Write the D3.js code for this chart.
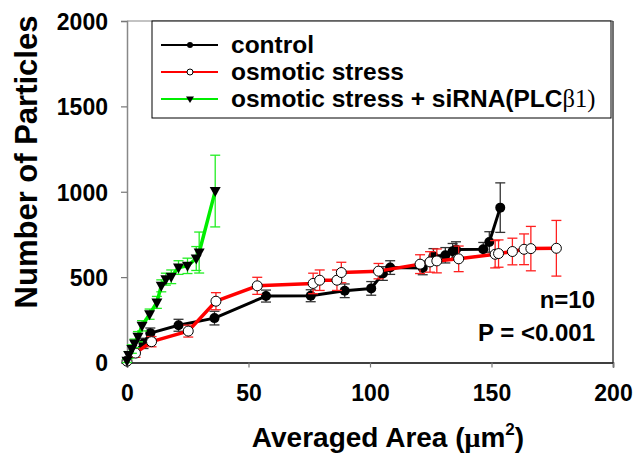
<!DOCTYPE html>
<html>
<head>
<meta charset="utf-8">
<script src="https://cdn.jsdelivr.net/npm/d3@7"></script>
<style>
  body { margin: 0; background: #fff; }
  svg text { font-family: "Liberation Sans", Arial, sans-serif; font-weight: bold; }
</style>
</head>
<body>
<div id="figure-div"></div>
<script>
// data
var controlX = [0, 2.7, 6.8, 9.6, 21.2, 36, 57.2, 75.6, 89.6, 100.5, 105.3, 108.3, 121.7, 126.1, 131, 134, 135.4, 146.6, 149.1, 153.6];
var controlY = [8, 57, 112, 172, 218, 260, 389, 391, 420, 434, 521, 556, 554, 622, 628, 652, 662, 663, 706, 907];
var controlErr = [5, 20, 30, 30, 35, 40, 35, 35, 40, 40, 40, 40, 40, 45, 45, 45, 45, 40, 60, 145];

var osmoticX = [0, 3.5, 10.1, 25.2, 36.6, 53.6, 76.6, 79.3, 86.4, 88.2, 103.5, 120.6, 124.7, 127.5, 136.5, 151.5, 152.9, 158.6, 163.4, 166.2, 176.7];
var osmoticY = [8, 55, 122, 184, 359, 449, 463, 482, 482, 527, 535, 576, 589, 595, 607, 634, 638, 650, 663, 667, 669];
var osmoticErr = [5, 25, 30, 35, 50, 50, 60, 60, 60, 60, 45, 55, 60, 70, 75, 80, 80, 78, 90, 130, 163];

var sirnaX = [0, 0.7, 2.0, 3.1, 4.5, 6.2, 9.3, 12.3, 14.1, 16.0, 18.2, 21.2, 24.9, 28.5, 29.7, 36.3];
var sirnaY = [10, 44, 79, 112, 151, 215, 283, 352, 449, 488, 502, 556, 566, 609, 644, 1004];
var sirnaErr = [10, 20, 25, 25, 30, 30, 30, 35, 35, 35, 40, 40, 45, 70, 120, 210];

var xTicks = [0, 50, 100, 150, 200];
var yTicks = [0, 500, 1000, 1500, 2000];
var legendLabels = ["control", "osmotic stress", "osmotic stress + siRNA(PLC"];

var w = 637, h = 454;
var plotLeft = 127, plotRight = 613, plotTop = 21, plotBottom = 362.5;

var svg = d3.select("#figure-div").append("svg")
	.attr("width", w)
	.attr("height", h);

var xScale = d3.scaleLinear().domain([0, 200]).range([plotLeft, plotRight]);
var yScale = d3.scaleLinear().domain([0, 2000]).range([plotBottom, plotTop]);

// frame lines
svg.append("line").attr("x1", plotLeft).attr("x2", plotRight).attr("y1", plotTop).attr("y2", plotTop)
	.attr("stroke", "#888").attr("stroke-width", 1.2);
svg.append("line").attr("x1", plotRight).attr("x2", plotRight).attr("y1", plotTop).attr("y2", plotBottom)
	.attr("stroke", "#111").attr("stroke-width", 1.2);

// x axis
var xAxis = d3.axisBottom(xScale).tickValues(xTicks).tickSize(5).tickPadding(17).tickFormat(d3.format("d"));
var gx = svg.append("g").attr("transform", "translate(0," + plotBottom + ")").call(xAxis);
gx.select(".domain").attr("stroke", "#000").attr("stroke-width", 1.5);
gx.selectAll(".tick line").attr("stroke", "#777").attr("stroke-width", 1.2);
gx.selectAll(".tick text").attr("font-size", "23px").attr("fill", "#000")
	.attr("font-family", "Liberation Sans, Arial, sans-serif").attr("font-weight", "bold");

// y axis
var yAxis = d3.axisLeft(yScale).tickValues(yTicks).tickSize(6).tickPadding(13).tickFormat(d3.format("d"));
var gy = svg.append("g").attr("transform", "translate(" + plotLeft + ",0)").call(yAxis);
gy.select(".domain").attr("stroke", "#888").attr("stroke-width", 1.5);
gy.selectAll(".tick line").attr("stroke", "#777").attr("stroke-width", 1.2);
gy.selectAll(".tick text").attr("font-size", "23px").attr("fill", "#000")
	.attr("font-family", "Liberation Sans, Arial, sans-serif").attr("font-weight", "bold")
	.attr("dy", "0.36em");

// axis titles
var xt = svg.append("text")
	.attr("x", 388)
	.attr("y", 447)
	.attr("text-anchor", "middle")
	.attr("font-size", "28px")
	.text("Averaged Area (");
xt.append("tspan").attr("font-family", "Liberation Serif, serif").text("μ");
xt.append("tspan").text("m");
xt.append("tspan").attr("font-size", "17px").attr("dy", "-12").text("2");
xt.append("tspan").attr("dy", "12").text(")");

svg.append("text")
	.attr("transform", "translate(37," + 162 + ") rotate(-90)")
	.attr("text-anchor", "middle")
	.attr("font-size", "31px")
	.text("Number of Particles");

// draw a series
function drawSeries(xs, ys, errs, lineColor, lineWidth, errColor, marker) {
	var pts = xs.map(function(x, i) { return { x: x, y: ys[i], e: errs[i] }; });
	var g = svg.append("g");
	var err = g.selectAll("g.err").data(pts).enter().append("g").attr("class", "err")
		.attr("stroke", errColor).attr("stroke-width", 1.3);
	err.append("line")
		.attr("x1", function(d) { return xScale(d.x); })
		.attr("x2", function(d) { return xScale(d.x); })
		.attr("y1", function(d) { return yScale(d.y - d.e); })
		.attr("y2", function(d) { return yScale(d.y + d.e); });
	err.append("line")
		.attr("x1", function(d) { return xScale(d.x) - 5; })
		.attr("x2", function(d) { return xScale(d.x) + 5; })
		.attr("y1", function(d) { return yScale(d.y + d.e); })
		.attr("y2", function(d) { return yScale(d.y + d.e); });
	err.append("line")
		.attr("x1", function(d) { return xScale(d.x) - 5; })
		.attr("x2", function(d) { return xScale(d.x) + 5; })
		.attr("y1", function(d) { return yScale(d.y - d.e); })
		.attr("y2", function(d) { return yScale(d.y - d.e); });

	var line = d3.line().x(function(d) { return xScale(d.x); }).y(function(d) { return yScale(d.y); });
	g.append("path").datum(pts).attr("d", line)
		.attr("fill", "none").attr("stroke", lineColor).attr("stroke-width", lineWidth)
		.attr("stroke-linejoin", "round");

	if (marker == "dot") {
		g.selectAll("circle").data(pts).enter().append("circle")
			.attr("cx", function(d) { return xScale(d.x); })
			.attr("cy", function(d) { return yScale(d.y); })
			.attr("r", 5).attr("fill", "#000");
	} else if (marker == "open") {
		g.selectAll("circle").data(pts).enter().append("circle")
			.attr("cx", function(d) { return xScale(d.x); })
			.attr("cy", function(d) { return yScale(d.y); })
			.attr("r", 5).attr("fill", "#fff").attr("stroke", "#000").attr("stroke-width", 1);
	} else {
		g.selectAll("path.tri").data(pts).enter().append("path").attr("class", "tri")
			.attr("d", function(d) {
				var cx = xScale(d.x), cy = yScale(d.y);
				return "M" + (cx - 5.5) + "," + (cy - 4) + "L" + (cx + 5.5) + "," + (cy - 4) + "L" + cx + "," + (cy + 6) + "Z";
			})
			.attr("fill", "#000");
	}
}

drawSeries(controlX, controlY, controlErr, "#000", 3, "#333", "dot");
drawSeries(osmoticX, osmoticY, osmoticErr, "#ff0000", 3.5, "#ff2020", "open");
drawSeries(sirnaX, sirnaY, sirnaErr, "#00ee00", 3.5, "#22ee22", "tri");

// legend
var lg = svg.append("g");
lg.append("rect").attr("x", 152).attr("y", plotTop).attr("width", 459).attr("height", 97)
	.attr("fill", "#fff").attr("stroke", "#000").attr("stroke-width", 1);
var legColors = ["#000", "#ff0000", "#00ee00"];
var legY = [45, 72, 99];
legendLabels.forEach(function(lab, i) {
	lg.append("line").attr("x1", 161).attr("x2", 218).attr("y1", legY[i]).attr("y2", legY[i])
		.attr("stroke", legColors[i]).attr("stroke-width", 2);
	if (i == 0) {
		lg.append("circle").attr("cx", 190).attr("cy", legY[i]).attr("r", 3).attr("fill", "#000");
	} else if (i == 1) {
		lg.append("circle").attr("cx", 190).attr("cy", legY[i]).attr("r", 3).attr("fill", "#fff")
			.attr("stroke", "#000").attr("stroke-width", 1);
	} else {
		lg.append("path").attr("d", "M186," + (legY[i] - 2.5) + "L194," + (legY[i] - 2.5) + "L190," + (legY[i] + 4) + "Z")
			.attr("fill", "#000");
	}
	var t = lg.append("text").attr("x", 231).attr("y", legY[i] + 8).attr("font-size", "24.5px").text(lab);
	if (i == 2) {
		t.append("tspan").attr("font-family", "Liberation Serif, serif").attr("font-weight", "normal")
			.text("β1)");
	}
});

// annotation
svg.append("text").attr("x", 595).attr("y", 308).attr("text-anchor", "end")
	.attr("font-size", "24px").text("n=10");
svg.append("text").attr("x", 595).attr("y", 341).attr("text-anchor", "end")
	.attr("font-size", "24px").text("P = <0.001");
</script>
</body>
</html>
